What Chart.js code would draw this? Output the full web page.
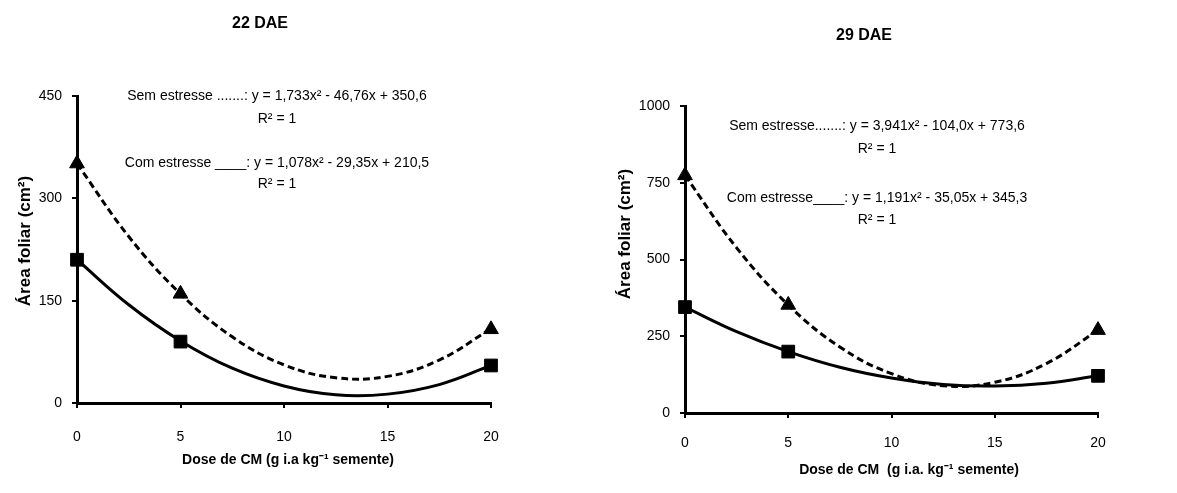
<!DOCTYPE html>
<html>
<head>
<meta charset="utf-8">
<script src="https://cdn.jsdelivr.net/npm/chart.js@4"></script>
<style>
	html, body { margin: 0; padding: 0; background: #fff; }
	#wrap { position: relative; width: 1177px; height: 493px; }
	.panel { position: absolute; top: 0; height: 493px; }
	#p22 { left: 0; width: 590px; }
	#p29 { left: 590px; width: 587px; }
</style>
</head>
<body>
<div id="wrap">
	<div class="panel" id="p22"><canvas id="chart22"></canvas></div>
	<div class="panel" id="p29"><canvas id="chart29"></canvas></div>
</div>
<script>
const doses = [0, 5, 20];
const sem22 = [351, 160, 108];
const com22 = [210, 90, 55];
const sem29 = [774, 352, 270];
const com29 = [345, 200, 121];

// trend curves
const trendX = [0, 2.5, 5, 7.5, 10, 12.5, 15, 17.5, 20];
const semTrend22 = [351, 244, 160, 97, 56, 37, 39, 63, 109];
const comTrend22 = [210, 144, 91, 51, 25, 12, 13, 27, 55];
const semTrend29 = [774, 538, 352, 215, 128, 89, 100, 161, 270];
const comTrend29 = [345, 265, 200, 149, 114, 93, 88, 97, 121];

const xTicks = [0, 5, 10, 15, 20];
const yTicks22 = [0, 150, 300, 450];
const yTicks29 = [0, 250, 500, 750, 1000];

const FONT = '"Liberation Sans", Arial, sans-serif';

function pts(xs, ys) {
	return xs.map((x, i) => ({ x: x, y: ys[i] }));
}

// plugin that writes titles and equation text
const textPlugin = {
	id: 'texts',
	afterDraw(chart, args, opts) {
		const ctx = chart.ctx;
		ctx.save();
		ctx.fillStyle = '#000';
		ctx.textAlign = 'center';
		ctx.textBaseline = 'middle';
		(opts.items || []).forEach(t => {
			ctx.font = (t.bold ? 'bold ' : '') + t.size + 'px ' + FONT;
			ctx.save();
			ctx.translate(t.x, t.y);
			if (t.rot) ctx.rotate(t.rot);
			ctx.fillText(t.text, 0, 0);
			ctx.restore();
		});
		ctx.restore();
	},
};

function makeChart(id, cfg) {
	const config = {
		type: 'scatter',
		data: {
			datasets: [
				{
					label: 'Sem estresse (curva)',
					data: pts(trendX, cfg.semTrend),
					showLine: true,
					borderColor: '#000',
					borderWidth: 3,
					borderDash: [7, 4],
					pointRadius: 0,
					tension: 0.4,
				},
				{
					label: 'Com estresse (curva)',
					data: pts(trendX, cfg.comTrend),
					showLine: true,
					borderColor: '#000',
					borderWidth: 3,
					pointRadius: 0,
					tension: 0.4,
				},
				{
					label: 'Sem estresse',
					data: pts(doses, cfg.sem),
					pointStyle: 'triangle',
					pointRadius: 8.5,
					backgroundColor: '#000',
					borderColor: '#000',
					borderWidth: 1,
					clip: false,
				},
				{
					label: 'Com estresse',
					data: pts(doses, cfg.com),
					pointStyle: 'rect',
					pointRadius: 9,
					backgroundColor: '#000',
					borderColor: '#000',
					borderWidth: 1,
					clip: false,
				},
			],
		},
		options: {
			responsive: true,
			maintainAspectRatio: false,
			animation: false,
			layout: {
				padding: { left: 0, top: cfg.top, right: cfg.right, bottom: 0 },
			},
			plugins: {
				legend: { display: false },
				tooltip: { enabled: false },
				texts: { items: cfg.texts },
			},
			scales: {
				x: {
					type: 'linear',
					min: 0,
					max: 20,
					afterBuildTicks: axis => {
						axis.ticks = xTicks.map(v => ({ value: v }));
					},
					afterFit: scale => {
						scale.height = cfg.xHeight;
					},
					border: { color: '#000', width: 3 },
					grid: {
						drawOnChartArea: false,
						drawTicks: true,
						tickLength: 5,
						color: '#000',
						lineWidth: 2,
					},
					ticks: {
						color: '#000',
						padding: cfg.xPad,
						font: { family: FONT, size: 14 },
						callback: v => String(v),
					},
				},
				y: {
					min: 0,
					max: cfg.yMax,
					afterBuildTicks: axis => {
						axis.ticks = cfg.yTicks.map(v => ({ value: v }));
					},
					afterFit: scale => {
						scale.width = cfg.yWidth;
					},
					border: { color: '#000', width: 3 },
					grid: {
						drawOnChartArea: false,
						drawTicks: true,
						tickLength: 5,
						color: '#000',
						lineWidth: 2,
					},
					ticks: {
						color: '#000',
						padding: 10,
						font: { family: FONT, size: 14 },
						callback: v => String(v),
					},
				},
			},
		},
		plugins: [textPlugin],
	};
	return new Chart(document.getElementById(id), config);
}

makeChart('chart22', {
	sem: sem22,
	com: com22,
	semTrend: semTrend22,
	comTrend: comTrend22,
	yMax: 450,
	yTicks: yTicks22,
	top: 96,
	right: 99,
	yWidth: 77,
	xHeight: 90,
	xPad: 21,
	texts: [
		{ text: '22 DAE', x: 260, y: 24, size: 16, bold: true },
		{ text: 'Área foliar (cm²)', x: 25, y: 241, size: 17, bold: true, rot: -Math.PI / 2 },
		{ text: 'Dose de CM (g i.a kg⁻¹ semente)', x: 288, y: 460, size: 14, bold: true },
		{ text: 'Sem estresse .......: y = 1,733x² - 46,76x + 350,6', x: 277, y: 96, size: 14 },
		{ text: 'R² = 1', x: 277, y: 119, size: 14 },
		{ text: 'Com estresse ____: y = 1,078x² - 29,35x + 210,5', x: 277, y: 163, size: 14 },
		{ text: 'R² = 1', x: 277, y: 184, size: 14 },
	],
});

makeChart('chart29', {
	sem: sem29,
	com: com29,
	semTrend: semTrend29,
	comTrend: comTrend29,
	yMax: 1000,
	yTicks: yTicks29,
	top: 106,
	right: 79,
	yWidth: 95,
	xHeight: 80,
	xPad: 17,
	texts: [
		{ text: '29 DAE', x: 274, y: 36, size: 16, bold: true },
		{ text: 'Área foliar (cm²)', x: 35, y: 234, size: 17, bold: true, rot: -Math.PI / 2 },
		{ text: 'Dose de CM  (g i.a. kg⁻¹ semente)', x: 319, y: 470, size: 14, bold: true },
		{ text: 'Sem estresse.......: y = 3,941x² - 104,0x + 773,6', x: 287, y: 126, size: 14 },
		{ text: 'R² = 1', x: 287, y: 149, size: 14 },
		{ text: 'Com estresse____: y = 1,191x² - 35,05x + 345,3', x: 287, y: 198, size: 14 },
		{ text: 'R² = 1', x: 287, y: 220, size: 14 },
	],
});
</script>
</body>
</html>
